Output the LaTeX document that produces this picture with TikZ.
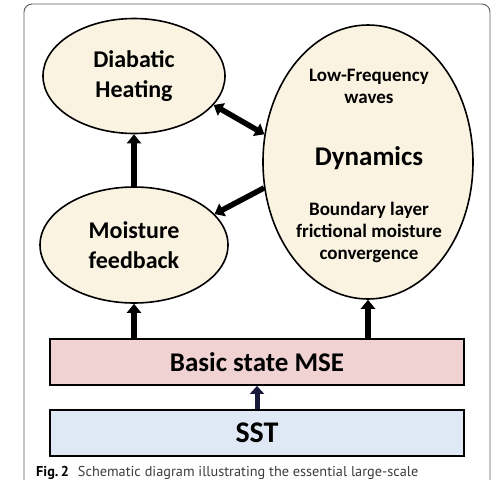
\documentclass[tikz,border=0pt]{standalone}
\usepackage{fontspec}
\setmainfont{Carlito}
\newfontfamily\capfont{PT Sans}
\usetikzlibrary{arrows.meta,shapes.geometric,positioning,calc}
\definecolor{creambg}{RGB}{250,243,226}
\definecolor{msebg}{RGB}{240,210,210}
\definecolor{sstbg}{RGB}{223,233,245}
\definecolor{navyarr}{RGB}{24,26,58}
\definecolor{framegray}{RGB}{90,90,90}
\definecolor{captext}{RGB}{60,60,60}

\begin{document}
\begin{tikzpicture}[x=1pt, y=-1pt,
    bubble/.style = {ellipse, draw=black, fill=creambg, line width=1.6pt,
                     inner sep=0pt, align=center, font=\fontsize{24}{30}\selectfont\bfseries},
    bar/.style    = {rectangle, draw=black, line width=1.8pt, minimum width=414pt,
                     minimum height=46pt, inner sep=0pt},
    txt/.style    = {align=center, inner sep=0pt, font=\fontsize{19}{22}\selectfont\bfseries},
    arr/.style    = {-{Triangle[length=9pt,width=14pt]}, line width=5.5pt, draw=black},
    darr/.style   = {{Triangle[length=9pt,width=14pt]}-{Triangle[length=9pt,width=14pt]},
                     line width=5.5pt, draw=black}
  ]
    \clip (0,0) rectangle (491,480);
    \draw[framegray, line width=0.9pt, rounded corners=8pt] (24,4) rectangle (490,520);

    % ellipses
    \node[bubble, minimum width=182pt, minimum height=115pt] (heat)  at (134,76)  {Diabatic\\Heating};
    \node[bubble, minimum width=188pt, minimum height=116pt] (moist) at (134,245) {Moisture\\feedback};
    \node[bubble, minimum width=210pt, minimum height=274pt] (dyn)   at (368,162) {};

    \node[txt] (lfw)  at (369,86)  {Low-Frequency\\waves};
    \node[font=\fontsize{27}{30}\selectfont\bfseries, inner sep=0pt] (dname) at (369,158) {Dynamics};
    \node[txt] (blc)  at (369,232) {Boundary layer\\frictional moisture\\convergence};

    % boxes
    \node[bar, fill=msebg, font=\fontsize{27}{30}\selectfont\bfseries] (mse) at (257,362) {Basic state MSE};
    \node[bar, fill=sstbg, font=\fontsize{30}{32}\selectfont\bfseries] (sst) at (257,433) {SST};

    \draw[arr] (moist.north) -- (heat.south);
    \draw[darr] (heat.-20) -- (dyn.165);
    \draw[arr] (dyn.194) -- (moist.21);
    \draw[arr] (mse.north -| moist.south) -- (moist.south);
    \draw[arr] (mse.north -| dyn.south) -- (dyn.south);
    \draw[arr, draw=navyarr, line width=5pt, -{Triangle[length=8pt,width=14pt]}] (sst.north) -- (mse.south);

    % caption
    \node[anchor=base west, inner sep=0pt, text=captext, font=\capfont\fontsize{14.3}{18}\selectfont]
      (cap) at (36,476) {\textcolor{black}{\bfseries Fig.\,2}\hspace{9pt}Schematic diagram illustrating the essential large-scale};
\end{tikzpicture}
\end{document}
